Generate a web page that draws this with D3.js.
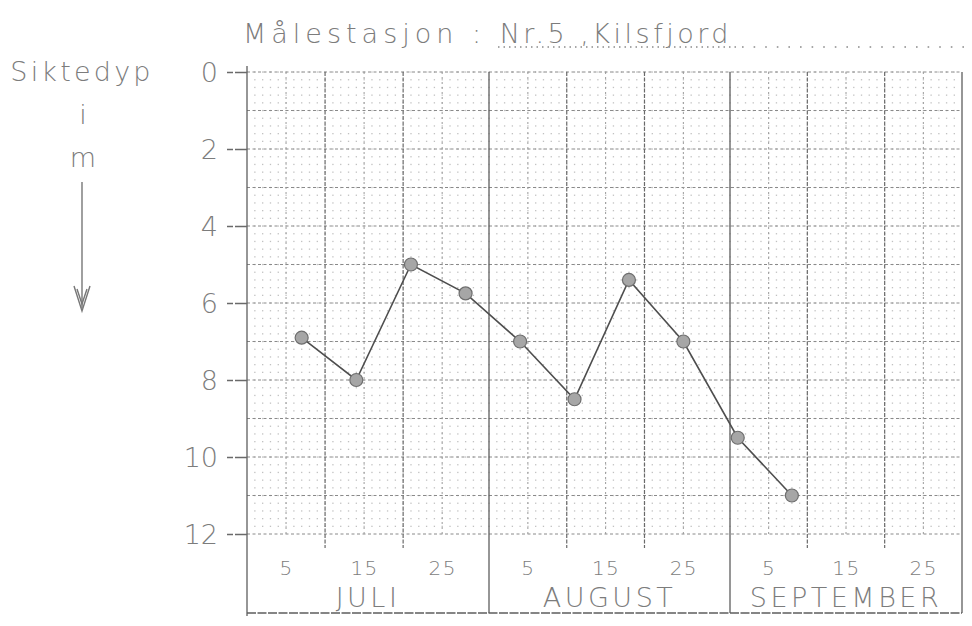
<!DOCTYPE html>
<html>
<head>
<meta charset="utf-8">
<script src="https://cdn.jsdelivr.net/npm/d3@7"></script>
<style>
  body { margin: 0; background: #fff; }
  svg { display: block; }
  text { font-family: "DejaVu Sans", "Noto Sans", sans-serif; font-weight: 200; fill: #7c7c7c; }
</style>
</head>
<body>
<svg id="chart" width="972" height="626"></svg>
<script>
// Secchi depth (siktedyp) at station Nr.5, Kilsfjord, summer season
const months = ["JULI", "AUGUST", "SEPTEMBER"];
const monthLengths = [31, 31, 30];
const dayLabels = [5, 15, 25];
const obsMonth = [0, 0, 0, 0, 1, 1, 1, 1, 2, 2];
const obsDay = [7, 14, 21, 28, 4, 11, 18, 25, 1, 8];
const depth = [6.9, 8.0, 5.0, 5.75, 7.0, 8.5, 5.4, 7.0, 9.5, 11.0];
const depthTicks = [0, 2, 4, 6, 8, 10, 12];
const titleLead = "Målestasjon : ";
const stationName = "Nr.5 ,Kilsfjord";
const yTitleLines = ["Siktedyp", "i", "m"];

// day offsets of each month start within the season
const monthStart = monthLengths.map((_, i) => d3.sum(monthLengths.slice(0, i)));
const seasonDays = d3.sum(monthLengths);

const svg = d3.select("#chart");

const x = d3.scaleLinear()
  .domain([0, monthStart[1], monthStart[2], seasonDays])
  .range([247, 489, 730, 962]);
const y = d3.scaleLinear().domain([0, 12]).range([72, 534]);

const plotL = x(0), plotR = x(seasonDays), plotT = y(0), plotB = y(12);
const frameBottom = 613;

// ---- graph paper ----
const grid = svg.append("g");

// fine dots: one column per day, one row per 0.2 m
const dotRows = d3.range(0, 60).map(i => i * 0.2);
const dotCols = d3.range(1, seasonDays);
const dots = [];
dotCols.forEach(c => dotRows.forEach(r => dots.push([c, r])));
grid.append("g").selectAll("rect").data(dots).join("rect")
  .attr("x", d => x(d[0]) - 0.6)
  .attr("y", d => y(d[1]) - 0.6)
  .attr("width", 1.3).attr("height", 1.3)
  .attr("fill", "#a0a0a0").attr("opacity", 0.65);

// metre lines
grid.append("g").selectAll("line").data(d3.range(0, 13)).join("line")
  .attr("x1", plotL).attr("x2", plotR)
  .attr("y1", d => y(d)).attr("y2", d => y(d))
  .attr("stroke", "#8a8a8a").attr("stroke-width", 1)
  .attr("stroke-dasharray", "3,2.5");

// 5-day lines, with the 10th and 20th of each month drawn heavier
const fiveDay = [];
monthStart.forEach((s, m) => [5, 10, 15, 20, 25].forEach(d => {
  if (d < monthLengths[m]) fiveDay.push({ off: s + d, major: d % 10 === 0 });
}));
grid.append("g").selectAll("line").data(fiveDay).join("line")
  .attr("x1", d => x(d.off)).attr("x2", d => x(d.off))
  .attr("y1", plotT)
  .attr("y2", d => d.major ? plotB + 14 : plotB)
  .attr("stroke", d => d.major ? "#6a6a6a" : "#9a9a9a")
  .attr("stroke-width", d => d.major ? 1.2 : 1)
  .attr("stroke-dasharray", d => d.major ? "4,1.5" : "2,3");

// frame: depth axis, month dividers, right edge, bottom edge
const frame = svg.append("g").attr("stroke", "#5e5e5e").attr("stroke-width", 1.3).attr("fill", "none");
frame.append("line").attr("x1", plotL).attr("x2", plotL).attr("y1", plotT - 6).attr("y2", frameBottom + 3);
frame.selectAll(".div").data(monthStart.slice(1)).join("line")
  .attr("x1", d => x(d)).attr("x2", d => x(d)).attr("y1", plotT).attr("y2", frameBottom);
frame.append("line").attr("x1", plotR).attr("x2", plotR).attr("y1", plotT).attr("y2", frameBottom);
frame.append("line").attr("x1", plotL).attr("x2", plotR).attr("y1", frameBottom).attr("y2", frameBottom)
  .attr("stroke-dasharray", "9,1.5");

// ---- depth axis ----
const yAxis = d3.axisLeft(y).tickValues(depthTicks).tickSize(20).tickPadding(9).tickFormat(d3.format("d"));
const yg = svg.append("g").attr("transform", `translate(${plotL},0)`).call(yAxis);
yg.select(".domain").remove();
yg.selectAll(".tick line").attr("stroke", "#6a6a6a").attr("stroke-width", 1.3).attr("stroke-dasharray", "12,2");
yg.selectAll(".tick text").attr("font-size", 27).attr("fill", "#7a7a7a")
  .attr("font-family", "\"DejaVu Sans\", sans-serif").attr("font-weight", 200).attr("dy", "0.36em");

// ---- date axis ----
const dayOffsets = [];
monthStart.forEach(s => dayLabels.forEach(d => dayOffsets.push({ off: s + d, d })));
const dayOf = new Map(dayOffsets.map(o => [o.off, o.d]));
const xAxis = d3.axisBottom(x).tickValues(dayOffsets.map(o => o.off)).tickSize(0).tickPadding(27)
  .tickFormat(o => dayOf.get(o));
const xg = svg.append("g").attr("transform", `translate(0,${plotB})`).call(xAxis);
xg.select(".domain").remove();
xg.selectAll(".tick text").attr("font-size", 20).attr("fill", "#7a7a7a").attr("letter-spacing", 1.5)
  .attr("font-family", "\"DejaVu Sans\", sans-serif").attr("font-weight", 200);

svg.append("g").selectAll("text").data(months).join("text")
  .attr("x", (d, i) => (x(monthStart[i]) + x(monthStart[i] + monthLengths[i])) / 2)
  .attr("y", 607)
  .attr("text-anchor", "middle")
  .attr("font-size", 27)
  .attr("letter-spacing", 3.5)
  .text(d => d);

// ---- title ----
const title = svg.append("text").attr("x", 243).attr("y", 43).attr("font-size", 27);
title.append("tspan").attr("letter-spacing", 5).text(titleLead);
title.append("tspan").attr("letter-spacing", 3.5).text(stationName);
svg.append("line").attr("x1", 498).attr("x2", 738).attr("y1", 47).attr("y2", 47)
  .attr("stroke", "#8a8a8a").attr("stroke-width", 1.3).attr("stroke-dasharray", "1.5,4");
svg.append("line").attr("x1", 742).attr("x2", 964).attr("y1", 47).attr("y2", 47)
  .attr("stroke", "#8a8a8a").attr("stroke-width", 1.6).attr("stroke-dasharray", "1.6,10");

// ---- depth label with downward arrow ----
svg.append("text").attr("x", 82).attr("y", 81).attr("text-anchor", "middle")
  .attr("font-size", 27).attr("letter-spacing", 3.2).text(yTitleLines[0]);
svg.append("text").attr("x", 83).attr("y", 124).attr("text-anchor", "middle")
  .attr("font-size", 27).text(yTitleLines[1]);
svg.append("text").attr("x", 83).attr("y", 167).attr("text-anchor", "middle")
  .attr("font-size", 27).text(yTitleLines[2]);
const arrow = svg.append("g").attr("stroke", "#777").attr("fill", "none").attr("stroke-width", 1.4);
arrow.append("line").attr("x1", 82).attr("x2", 82).attr("y1", 182).attr("y2", 308);
arrow.append("polyline").attr("points", "74,286 82,311 90,286");
arrow.append("polyline").attr("points", "77,289 82,304 87,289");

// ---- observations ----
const obs = depth.map((v, i) => ({ off: monthStart[obsMonth[i]] + obsDay[i], v }));
svg.append("path").datum(obs)
  .attr("d", d3.line().x(d => x(d.off)).y(d => y(d.v)))
  .attr("fill", "none").attr("stroke", "#4e4e4e").attr("stroke-width", 1.6);
svg.append("g").selectAll("circle").data(obs).join("circle")
  .attr("cx", d => x(d.off)).attr("cy", d => y(d.v)).attr("r", 6.5)
  .attr("fill", "#a6a6a6").attr("stroke", "#6e6e6e").attr("stroke-width", 1.2);
</script>
</body>
</html>
